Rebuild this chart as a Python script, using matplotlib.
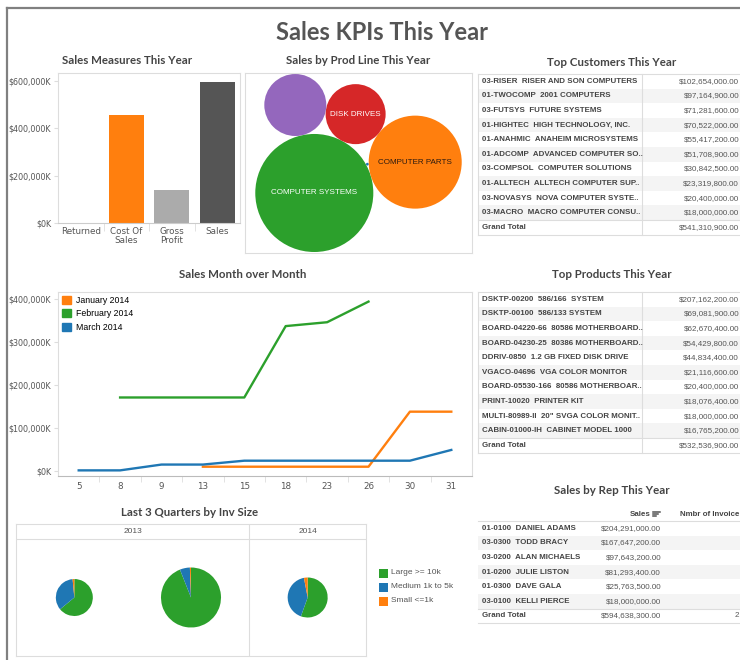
import numpy as np
import matplotlib
matplotlib.use("Agg")
import matplotlib.pyplot as plt
from matplotlib.patches import Rectangle, Circle, Patch

W, H = 740, 660

ORANGE = "#ff7f0e"
GREEN = "#2ca02c"
BLUE = "#1f77b4"
RED = "#d62728"
PURPLE = "#9467bd"
TXT = "#555555"
LINE = "#dddddd"
TITLE_FONT = "Lato"
CELL_FONT = "Liberation Sans"

# --- data ($K for charts, $ for tables) ---
measure_names = ["Returned", "Cost Of\nSales", "Gross\nProfit", "Sales"]
measure_values = [0, 455700, 138900, 594638]
measure_colors = ["#7f7f7f", ORANGE, "#ababab", "#555555"]

prod_lines = ["COMPUTER SYSTEMS", "COMPUTER PARTS", "DISK DRIVES", "PERIPHERALS", "OTHER"]
prod_sales = [275800, 171300, 71300, 76100, 150]
prod_colors = [GREEN, ORANGE, RED, PURPLE, BLUE]
prod_show_label = [True, True, True, False, False]
prod_label_colors = ["white", "#2b1a10", "white", "white", "white"]

days = ["5", "8", "9", "13", "15", "18", "23", "26", "30", "31"]
jan_2014 = [np.nan, np.nan, np.nan, 10000, 10000, 10000, 10000, 10000, 138000, 138000]
feb_2014 = [np.nan, 171000, 171000, 171000, 171000, 337000, 346000, 394000, np.nan, np.nan]
mar_2014 = [1500, 1500, 15000, 15000, 24000, 24000, 24000, 24000, 24000, 49000]
month_names = ["January 2014", "February 2014", "March 2014"]

quarter_years = ["2013", "2013", "2014"]
quarter_totals = [508000, 1338000, 594600]
inv_sizes = ["Large >= 10k", "Medium 1k to 5k", "Small <=1k"]
inv_large = [64.0, 94.0, 55.5]
inv_medium = [34.5, 5.4, 41.5]
inv_small = [1.5, 0.6, 3.0]
inv_colors = [GREEN, BLUE, ORANGE]

customers = ["03-RISER  RISER AND SON COMPUTERS", "01-TWOCOMP  2001 COMPUTERS",
             "03-FUTSYS  FUTURE SYSTEMS", "01-HIGHTEC  HIGH TECHNOLOGY, INC.",
             "01-ANAHMIC  ANAHEIM MICROSYSTEMS", "01-ADCOMP  ADVANCED COMPUTER SO..",
             "03-COMPSOL  COMPUTER SOLUTIONS", "01-ALLTECH  ALLTECH COMPUTER SUP..",
             "03-NOVASYS  NOVA COMPUTER SYSTE..", "03-MACRO  MACRO COMPUTER CONSU.."]
customer_sales = [102654000, 97164900, 71281600, 70522000, 55417200,
                  51708900, 30842500, 23319800, 20400000, 18000000]

products = ["DSKTP-00200  586/166  SYSTEM", "DSKTP-00100  586/133 SYSTEM",
            "BOARD-04220-66  80586 MOTHERBOARD..", "BOARD-04230-25  80386 MOTHERBOARD..",
            "DDRIV-0850  1.2 GB FIXED DISK DRIVE", "VGACO-04696  VGA COLOR MONITOR",
            "BOARD-05530-166  80586 MOTHERBOAR..", "PRINT-10020  PRINTER KIT",
            "MULTI-80989-II  20\" SVGA COLOR MONIT..", "CABIN-01000-IH  CABINET MODEL 1000"]
product_sales = [207162200, 69081900, 62670400, 54429800, 44834400,
                 21116600, 20400000, 18076400, 18000000, 16765200]

reps = ["01-0100  DANIEL ADAMS", "03-0300  TODD BRACY", "03-0200  ALAN MICHAELS",
        "01-0200  JULIE LISTON", "01-0300  DAVE GALA", "03-0100  KELLI PIERCE"]
rep_sales = [204291000, 167647200, 97643200, 81293400, 25763500, 18000000]
rep_invoice_total = "2"


def px_axes(fig, x0, y0, x1, y1):
    return fig.add_axes([x0 / W, 1 - y1 / H, (x1 - x0) / W, (y1 - y0) / H])


def style_spines(ax, color=LINE):
    for s in ax.spines.values():
        s.set_color(color)
        s.set_linewidth(0.8)


def kfmt(v, _=None):
    return f"${v / 1000:,.0f},000K" if v else "$0K"


def tangent(ca, ra, cb, rb, r, side):
    d = np.hypot(*(cb - ca))
    a, b = ra + r, rb + r
    x = (a ** 2 - b ** 2 + d ** 2) / (2 * d)
    h = np.sqrt(max(a ** 2 - x ** 2, 0))
    u = (cb - ca) / d
    n = np.array([-u[1], u[0]])
    return ca + x * u + side * h * n


fig = plt.figure(figsize=(W / 100, H / 100), dpi=100)
fig.patch.set_facecolor("white")

# --- Sales measures bars ---
ax1 = px_axes(fig, 58, 73, 240, 223)
ax1.bar(np.arange(len(measure_values)), measure_values, width=0.77, color=measure_colors)
ax1.set_xlim(-0.5, 3.5)
ax1.set_ylim(0, 632500)
ax1.set_yticks([0, 200000, 400000, 600000])
ax1.yaxis.set_major_formatter(kfmt)
ax1.set_xticks(np.arange(len(measure_names)))
ax1.set_xticklabels(measure_names, linespacing=1.0)
ax1.set_xticks([0.5, 1.5, 2.5], minor=True)
ax1.tick_params(axis="x", which="major", length=0, labelsize=6.3, colors=TXT, pad=3)
ax1.tick_params(axis="x", which="minor", length=6, color=LINE)
ax1.tick_params(axis="y", length=3, color=LINE, labelsize=5.8, labelcolor=TXT, pad=2)
style_spines(ax1)
ax1.spines["bottom"].set_color("#cccccc")

# --- Prod line bubbles ---
ax2 = px_axes(fig, 245, 73, 472, 253)
rad = np.sqrt(np.array(prod_sales, dtype=float))
cen = np.zeros((len(rad), 2))
ang = np.deg2rad(17)
cen[1] = (rad[0] + rad[1]) * np.array([np.cos(ang), np.sin(ang)])
cen[2] = tangent(cen[0], rad[0], cen[1], rad[1], rad[2], 1)
cen[3] = tangent(cen[0], rad[0], cen[2], rad[2], rad[3], 1)
cen[4] = tangent(cen[0], rad[0], cen[1], rad[1], rad[4], 1)
bx0, bx1 = (cen[:, 0] - rad).min(), (cen[:, 0] + rad).max()
by0, by1 = (cen[:, 1] - rad).min(), (cen[:, 1] + rad).max()
aw, ah = 227, 180
sc = min((aw - 2) / (bx1 - bx0), (ah - 2) / (by1 - by0))
cen = (cen - [(bx0 + bx1) / 2, (by0 + by1) / 2]) * sc + [aw / 2, ah / 2]
rad = rad * sc
for i in range(len(rad)):
    ax2.add_patch(Circle(cen[i], rad[i], color=prod_colors[i], lw=0))
    if prod_show_label[i]:
        ax2.text(cen[i][0], cen[i][1], prod_lines[i], ha="center", va="center",
                 fontsize=5.8, family=CELL_FONT, color=prod_label_colors[i])
ax2.set_xlim(0, aw)
ax2.set_ylim(0, ah)
ax2.set_xticks([])
ax2.set_yticks([])
style_spines(ax2)

# --- Month over month lines ---
ax3 = px_axes(fig, 58, 292, 472, 476)
x = np.arange(len(days))
for vals, c in zip([jan_2014, feb_2014, mar_2014], [ORANGE, GREEN, BLUE]):
    ax3.plot(x, vals, color=c, lw=1.7)
ax3.set_xlim(-0.5, len(days) - 0.5)
ax3.set_ylim(-11600, 416300)
ax3.set_yticks([0, 100000, 200000, 300000, 400000])
ax3.yaxis.set_major_formatter(kfmt)
ax3.set_xticks(x)
ax3.set_xticklabels(days)
ax3.set_xticks(x[:-1] + 0.5, minor=True)
ax3.tick_params(axis="x", which="major", length=0, labelsize=6.3, colors=TXT, pad=4)
ax3.tick_params(axis="x", which="minor", length=4, color=LINE)
ax3.tick_params(axis="y", length=3, color=LINE, labelsize=5.8, labelcolor=TXT, pad=2)
style_spines(ax3)
ax3.spines["bottom"].set_color("#bbbbbb")
handles = [Patch(color=c) for c in [ORANGE, GREEN, BLUE]]
ax3.legend(handles, month_names, loc="upper left", frameon=False,
           handlelength=1.1, handleheight=1.1, handletextpad=0.5,
           labelspacing=0.5, borderaxespad=0.2, borderpad=0.2,
           prop={"family": CELL_FONT, "size": 6.3})

# --- Last 3 quarters pies ---
ax4 = px_axes(fig, 16, 524, 366, 656)
pw, ph, hdr = 350, 132, 15
colw = pw / len(quarter_totals)
rmax = 30
tot = np.array(quarter_totals, dtype=float)
for i in range(len(tot)):
    r = rmax * np.sqrt(tot[i] / tot.max())
    ax4.pie([inv_large[i], inv_medium[i], inv_small[i]], colors=inv_colors,
            startangle=90, counterclock=False, radius=r,
            center=((i + 0.5) * colw, (ph - hdr) / 2), frame=True,
            wedgeprops=dict(linewidth=0))
years = sorted(set(quarter_years))
start = 0
for y in years:
    n = quarter_years.count(y)
    ax4.text((start + n / 2) * colw, ph - hdr / 2, y, ha="center", va="center",
             fontsize=6, family=CELL_FONT, color=TXT)
    start += n
    if start < len(quarter_years):
        ax4.axvline(start * colw, color=LINE, lw=0.8)
ax4.axhline(ph - hdr, color=LINE, lw=0.8)
ax4.set_xlim(0, pw)
ax4.set_ylim(0, ph)
ax4.set_aspect("auto")
ax4.set_xticks([])
ax4.set_yticks([])
style_spines(ax4)

# --- overlay: titles, tables, frame ---
ov = fig.add_axes([0, 0, 1, 1])
ov.set_xlim(0, W)
ov.set_ylim(H, 0)
ov.axis("off")
ov.patch.set_alpha(0)

ov.plot([7, 7], [H, 8], color="#808080", lw=1.6)
ov.plot([7, W], [8, 8], color="#808080", lw=1.6)

ov.text(382, 33, "Sales KPIs This Year", ha="center", va="center", fontsize=17,
        fontweight="bold", family=TITLE_FONT, color="#555555")
for (tx, ty, t) in [(127, 61, "Sales Measures This Year"),
                    (358, 61, "Sales by Prod Line This Year"),
                    (612, 62, "Top Customers This Year"),
                    (243, 275, "Sales Month over Month"),
                    (612, 275, "Top Products This Year"),
                    (190, 513, "Last 3 Quarters by Inv Size"),
                    (612, 491, "Sales by Rep This Year")]:
    ov.text(tx, ty, t, ha="center", va="center", fontsize=8.3, fontweight="bold",
            family=TITLE_FONT, color="#444444")


def draw_table(top, names, values, val_x, divider=None, left_border=True,
               extra=None, row_h=14.6, x0=478, x1=W):
    rows = list(names) + ["Grand Total"]
    vals = list(values) + [sum(values)]
    n = len(rows)
    for i in range(n):
        y = top + i * row_h
        if i % 2 == 1 and i < n - 1:
            ov.add_patch(Rectangle((x0, y), x1 - x0, row_h, color="#f4f4f4", lw=0))
        ov.text(482, y + row_h / 2, rows[i], ha="left", va="center", fontsize=5.7,
                family=CELL_FONT, fontweight="bold", color="#444444")
        ov.text(val_x, y + row_h / 2, f"${vals[i]:,.2f}", ha="right", va="center",
                fontsize=5.8, family=CELL_FONT, color=TXT)
    for yy in [top, top + (n - 1) * row_h, top + n * row_h]:
        ov.plot([x0, x1], [yy, yy], color=LINE, lw=0.8)
    if left_border:
        ov.plot([x0, x0], [top, top + n * row_h], color=LINE, lw=0.8)
    if divider:
        ov.plot([divider, divider], [top, top + n * row_h], color=LINE, lw=0.8)
    if extra is not None:
        ov.text(739, top + (n - 0.5) * row_h, str(extra), ha="right", va="center",
                fontsize=5.8, family=CELL_FONT, color=TXT)


draw_table(74, customers, customer_sales, 739, divider=642)
draw_table(292, products, product_sales, 739, divider=642)
draw_table(521, reps, rep_sales, 661, left_border=False, extra=rep_invoice_total)

ov.text(651, 514, "Sales", ha="right", va="center", fontsize=5.7, family=CELL_FONT,
        fontweight="bold", color="#444444")
for k, ln in enumerate([7, 5, 3]):
    ov.plot([652.5, 652.5 + ln], [511.5 + 2.2 * k, 511.5 + 2.2 * k], color="#555555", lw=1.1)
ov.text(739, 514, "Nmbr of Invoice", ha="right", va="center", fontsize=5.7,
        family=CELL_FONT, fontweight="bold", color="#444444")

# pie legend
for k, (lab, c) in enumerate(zip(inv_sizes, inv_colors)):
    yy = 573 + 14 * k
    ov.add_patch(Rectangle((379, yy - 4.5), 9, 9, color=c, lw=0))
    ov.text(391, yy, lab, ha="left", va="center", fontsize=6, family=CELL_FONT, color=TXT)

fig.savefig("out.png", dpi=100)
